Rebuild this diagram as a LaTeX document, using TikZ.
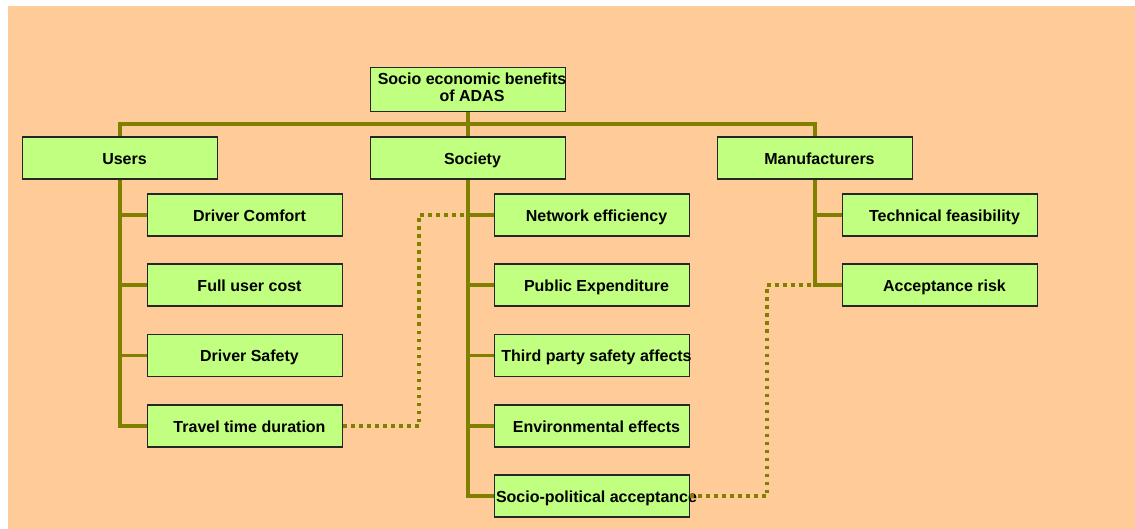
\documentclass[tikz,border=0pt]{standalone}
\usepackage{fontspec}
\setmainfont{Liberation Sans}
\definecolor{peach}{HTML}{FFCC99}
\definecolor{boxgreen}{HTML}{C0FF80}
\definecolor{olivegreen}{HTML}{808000}
\newcommand{\lbl}[1]{\makebox[0pt]{\hspace*{9pt}#1}}
\begin{document}
\begin{tikzpicture}[x=1pt,y=-1pt,
  box/.style={draw=black!85, line width=1.2pt, fill=boxgreen, minimum width=195pt,
    minimum height=42pt, inner sep=0pt, text height=12.5pt, text depth=0pt,
    font=\fontsize{16}{18}\selectfont\bfseries},
  tree/.style={draw=olivegreen, line width=3.5pt},
  dotline/.style={draw=olivegreen, line width=3.5pt, dash pattern=on 3.5pt off 4.5pt}]
\useasboundingbox (0,0) rectangle (1135,529);
\fill[white] (0,0) rectangle (1135,529);
\fill[peach] (8,6) rectangle (1135,529);

% top level
\node[box, minimum height=44pt, text height=, text depth=] (root) at (468,89.5)
  {\makebox[0pt]{\hspace*{8pt}\begin{tabular}{@{}c@{}}Socio economic benefits\\[-1pt]of ADAS\end{tabular}}};
\node[box] (users) at (120,158) {\lbl{Users}};
\node[box] (society) at (468,158) {\lbl{Society}};
\node[box] (manuf) at (815,158) {\lbl{Manufacturers}};

% users children
\node[box] (comfort) at (245,215) {\lbl{Driver Comfort}};
\node[box] (cost) at (245,285) {\lbl{Full user cost}};
\node[box] (safety) at (245,355.5) {\lbl{Driver Safety}};
\node[box] (travel) at (245,426) {\lbl{Travel time duration}};

% society children
\node[box] (network) at (592,215) {\lbl{Network efficiency}};
\node[box] (public) at (592,285) {\lbl{Public Expenditure}};
\node[box] (third) at (592,355.5) {\lbl{Third party safety affects}};
\node[box] (environ) at (592,426) {\lbl{Environmental effects}};
\node[box] (socio) at (592,496) {\lbl{Socio-political acceptance}};

% manufacturers children
\node[box] (tech) at (940,215) {\lbl{Technical feasibility}};
\node[box] (risk) at (940,285) {\lbl{Acceptance risk}};

% tree connectors
\coordinate (bus) at (468,124);
\draw[tree] (root.south) -- (bus);
\draw[tree] (users.north) |- (bus) -| (manuf.north);
\draw[tree] (bus) -- (society.north);

\draw[tree] (users.south) |- (travel.west);
\draw[tree] (users.south |- comfort.west) -- (comfort.west);
\draw[tree] (users.south |- cost.west) -- (cost.west);
\draw[tree] (users.south |- safety.west) -- (safety.west);

\draw[tree] (society.south) |- (socio.west);
\draw[tree] (society.south |- network.west) -- (network.west);
\draw[tree] (society.south |- public.west) -- (public.west);
\draw[tree] (society.south |- third.west) -- (third.west);
\draw[tree] (society.south |- environ.west) -- (environ.west);

\draw[tree] (manuf.south) |- (risk.west);
\draw[tree] (manuf.south |- tech.west) -- (tech.west);

% dotted cross links
\draw[dotline] (travel.east) -- ++(76,0) |- (society.south |- network.west);
\draw[dotline] (socio.east) -- ++(77,0) |- (manuf.south |- risk.west);
\end{tikzpicture}
\end{document}
